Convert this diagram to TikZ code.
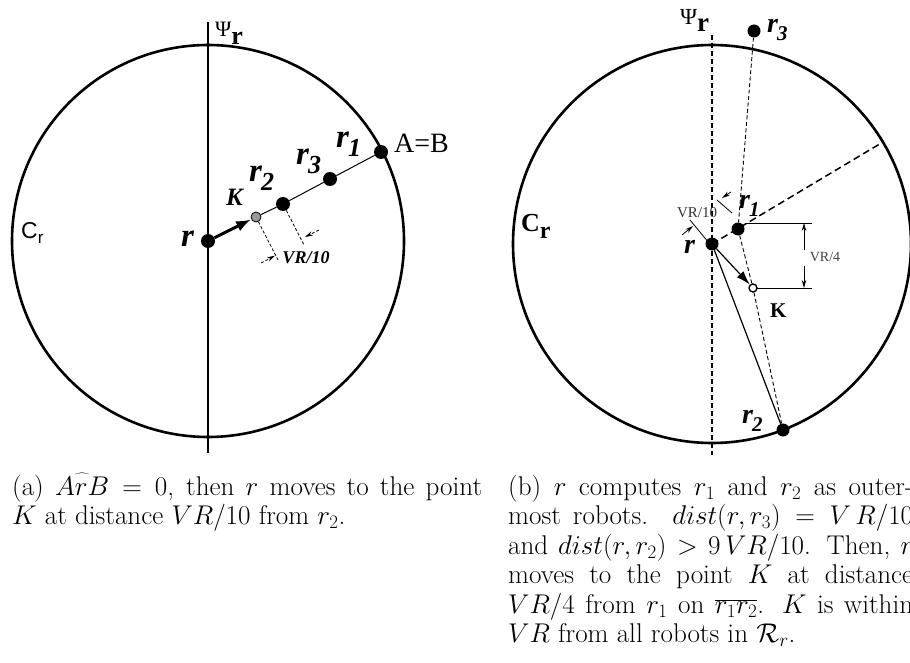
\RequirePackage{fix-cm}
\documentclass[tikz,border=0pt]{standalone}
\usepackage{fontspec}
\usetikzlibrary{arrows.meta}
\newfontfamily\tms{Liberation Serif}
\newfontfamily\arl{Liberation Sans}
\newcommand\rsubL[1]{{\tms\bfseries\itshape\fontsize{33}{33}\selectfont r\kern-1pt\raisebox{-9pt}{\fontsize{26}{26}\selectfont #1}}}
\newcommand\rsubR[1]{{\tms\bfseries\itshape\fontsize{28}{28}\selectfont r\kern-1pt\raisebox{-8pt}{\fontsize{21}{21}\selectfont #1}}}
\tikzset{
  bigcirc/.style={line width=2.6pt},
  bdot/.style={circle, fill=black, inner sep=0pt, minimum size=14pt},
  sdot/.style={circle, fill=black, inner sep=0pt, minimum size=13pt},
  lbl/.style={inner sep=0pt, anchor=base west},
  thindash/.style={line width=0.9pt, dash pattern=on 4pt off 2.5pt},
  thickdash/.style={line width=1.5pt, dash pattern=on 7pt off 4pt},
  psidash/.style={line width=1.3pt, dash pattern=on 5pt off 3pt},
  dimline/.style={line width=0.8pt},
  dimdash/.style={line width=0.8pt, dash pattern=on 3pt off 2pt},
  dimtip/.style={-{Stealth[length=8pt,width=4.5pt]}},
  capnode/.style={inner sep=0pt, anchor=base west}
}
\begin{document}
\begin{tikzpicture}[x=1pt,y=-1pt]
\useasboundingbox (0,0) rectangle (910,663);
% ---------------- left panel ----------------
\draw[bigcirc] (208,241) circle[radius=196];
\coordinate (lpsitop) at (208,22);
\coordinate (lpsibot) at (208,453);
\draw[line width=1.2pt] (lpsitop) -- (lpsibot);
\node[lbl] (lpsi) at (215,37) {\tms\fontsize{22}{22}\selectfont Ψ\raisebox{-8pt}{\bfseries\fontsize{26}{26}\selectfont r}};
\node[lbl] (lCr) at (21,239) {\arl\fontsize{23}{23}\selectfont C\raisebox{-5pt}{\fontsize{17}{17}\selectfont r}};

\node[bdot] (lr) at (208,241) {};
\node[circle, fill=black!40, draw=black, line width=0.8pt, inner sep=0pt, minimum size=10pt] (lK) at (256,217) {};
\node[bdot] (lr2) at (283,204) {};
\node[bdot] (lr3) at (330,179) {};
\node[bdot] (lr1) at (381,152) {};
\draw[line width=1pt] (lK) -- (lr2) -- (lr3) -- (lr1);
\draw[line width=3pt, -{Latex[length=15pt,width=11pt]}] (lr) -- (lK);

% dimension VR/10 (left)
\coordinate (lKe) at (278,260);
\coordinate (lr2e) at (304,245);
\draw[dimdash] (lK) -- (lKe);
\draw[dimdash] (lr2) -- (lr2e);
\coordinate (la1s) at (261,263);
\coordinate (la1e) at (275,255.7);
\coordinate (la2s) at (319,230);
\coordinate (la2e) at (305,237);
\draw[dimdash, dimtip] (la1s) -- (la1e);
\draw[dimdash, dimtip] (la2s) -- (la2e);
\node[inner sep=0pt] (lvr10) at (306,258) {\tms\bfseries\itshape\fontsize{18}{18}\selectfont VR/10};

\node[lbl] (lrl) at (181,247) {\tms\bfseries\itshape\fontsize{33}{33}\selectfont r};
\node[lbl] (lKl) at (226,206) {\tms\bfseries\itshape\fontsize{25}{25}\selectfont K};
\node[lbl] (lr2l) at (249,182) {\rsubL{2}};
\node[lbl] (lr3l) at (296,165) {\rsubL{3}};
\node[lbl] (lr1l) at (336,148) {\rsubL{1}};
\node[lbl] (lAB) at (394,153) {\tms\fontsize{28}{28}\selectfont A=B};

% ---------------- right panel ----------------
\draw[bigcirc] (712,244) circle[radius=199];
\coordinate (rpsitop) at (712,35);
\coordinate (rpsibot) at (712,455);
\draw[psidash] (rpsitop) -- (rpsibot);
\node[lbl] (rpsi) at (680,25) {\tms\fontsize{23}{23}\selectfont Ψ\raisebox{-7pt}{\bfseries\fontsize{27}{27}\selectfont r}};
\node[lbl] (rCr) at (521,232) {\tms\bfseries\fontsize{26}{26}\selectfont C\raisebox{-6pt}{\fontsize{24}{24}\selectfont r}};

\node[sdot] (rr) at (712,244) {};
\node[sdot] (rr1) at (738,229) {};
\node[sdot] (rr2) at (783,430) {};
\node[sdot] (rr3) at (754,31) {};
\node[circle, fill=white, draw=black, line width=1.4pt, inner sep=0pt, minimum size=8pt] (rK) at (753,288) {};
\coordinate (redge) at (883,142);

\draw[thickdash] (rr.center) -- (redge);
\draw[thindash] (rr3) -- (rr1);
\draw[thindash] (rr1) -- (rK) -- (rr2);
\draw[line width=1.2pt] (rr) -- (rr2);
\draw[line width=1.2pt, -{Latex[length=14pt,width=9pt]}] (rr) -- (rK);

% VR/4 dimension
\coordinate (d4a) at (745,223);
\coordinate (d4b) at (812,223);
\coordinate (d4c) at (757,288);
\coordinate (d4d) at (812,288);
\draw[dimline] (d4a) -- (d4b);
\draw[dimline] (d4c) -- (d4d);
\coordinate (d4u) at (804,250);
\coordinate (d4ut) at (804,223);
\coordinate (d4l) at (804,266);
\coordinate (d4lt) at (804,288);
\draw[dimline, dimtip] (d4u) -- (d4ut);
\draw[dimline, dimtip] (d4l) -- (d4lt);
\node[inner sep=0pt, text=black!75] (rvr4) at (825,257) {\tms\fontsize{14}{14}\selectfont VR/4};

% VR/10 dimension (right)
\coordinate (e1a) at (690,220);
\coordinate (e1b) at (709,243);
\coordinate (e2a) at (717,200);
\coordinate (e2b) at (732,213);
\draw[dimline] (e1a) -- (e1b);
\draw[dimline] (e2a) -- (e2b);
\coordinate (a1s) at (682,235);
\coordinate (a1e) at (693,226);
\coordinate (a2s) at (731,192);
\coordinate (a2e) at (722,198);
\draw[dimline, dimtip] (a1s) -- (a1e);
\draw[dimline, dimtip] (a2s) -- (a2e);
\node[inner sep=0pt, text=black!80] (rvr10) at (697,213) {\tms\fontsize{15}{15}\selectfont VR/10};

\node[lbl] (rrl) at (684,253) {\tms\bfseries\itshape\fontsize{28}{28}\selectfont r};
\node[lbl] (rr1l) at (739,208) {\rsubR{1}};
\node[lbl] (rr2l) at (742,423) {\rsubR{2}};
\node[lbl] (rr3l) at (767,33) {\rsubR{3}};
\node[lbl] (rKl) at (770,317) {\tms\bfseries\fontsize{21}{21}\selectfont K};

% ---------------- captions ----------------
\node[capnode] (capa) at (12,495) {\parbox[t]{470pt}{\fontsize{27.1}{29.5}\selectfont
(a) $\widehat{ArB}=0$, then $r$ moves to the point\linebreak
$K$ at distance $VR/10$ from $r_2$.}};
\node[capnode] (capb) at (508,495) {\parbox[t]{405pt}{\fontsize{27.1}{29.5}\selectfont
(b) $r$ computes $r_1$ and $r_2$ as outer-\linebreak
most robots.\ \ $dist(r,r_3)=V\,R/10$\linebreak
and $dist(r,r_2)>9\,VR/10$. Then, $r$\linebreak
moves to the point $K$ at distance\linebreak
$VR/4$ from $r_1$ on $\overline{r_1r_2}$. $K$ is within\linebreak
$VR$ from all robots in $\mathcal{R}_r$.}};
\end{tikzpicture}
\end{document}
